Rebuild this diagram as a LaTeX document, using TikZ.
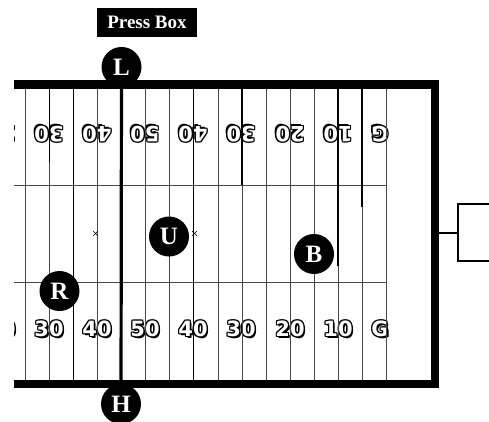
\documentclass[tikz,border=0pt]{standalone}
\usepackage{fontspec}
\setmainfont{Liberation Serif}
\newfontfamily\numfont{DejaVu Sans}
\usetikzlibrary{calc}

\tikzset{
  official/.style={circle, fill=black, minimum size=40pt, inner sep=0pt,
    text=white, font=\fontsize{25}{25}\selectfont\bfseries},
  pressbox/.style={fill=black, text=white, minimum width=100pt, minimum height=29pt,
    inner sep=0pt, font=\fontsize{19}{19}\selectfont\bfseries},
  yardline/.style={draw=black!72, line width=1pt},
  zoneline/.style={draw=black, line width=1.8pt},
  los/.style={draw=black, line width=3.2pt},
  numstyle/.style={inner sep=0pt, font=\numfont\bfseries\fontsize{21}{21}\selectfont},
  border/.style={fill=black},
  post/.style={draw=black, line width=2pt},
  hashmark/.style={draw=black, line width=0.6pt}
}

% hollow lettering: black copies shifted around a white copy
\newcommand\outcopy[3]{\makebox[0pt][l]{\hspace*{#1}\raisebox{#2}{\textcolor{black}{#3}}}}
\newcommand\hollow[1]{%
  \outcopy{-1.1pt}{1.1pt}{#1}\outcopy{0pt}{1.1pt}{#1}\outcopy{1.1pt}{1.1pt}{#1}%
  \outcopy{-1.1pt}{0pt}{#1}\outcopy{1.1pt}{0pt}{#1}%
  \outcopy{-1.1pt}{-1.1pt}{#1}\outcopy{0pt}{-1.1pt}{#1}\outcopy{1.1pt}{-1.1pt}{#1}%
  \outcopy{1.7pt}{-1.7pt}{#1}%
  \textcolor{white}{#1}}

\begin{document}
\begin{tikzpicture}[x=1pt, y=-1pt]
\useasboundingbox (0,0) rectangle (489,422);

% press box
\node[pressbox] (press) at (147,22.5) {Press Box};

\begin{scope}
  \clip (14,0) rectangle (489,422);

  % yard numbers (top row upside down)
  \foreach \x/\t [count=\i] in {1/20,49/30,97/40,145/50,193/40,241/30,290/20,338/10,380/G}{
    \node[numstyle] (bot\i) at (\x,329) {\hollow{\t}};
    \node[numstyle, rotate=180] (top\i) at (\x,134) {\hollow{\t}};
  }

  % yard lines every five yards
  \foreach \x in {1.5,25.5,49.5,73.5,97,121,145,169.5,193.5,218,242,266,290,314,338,362,386}
    \draw[yardline] (\x,89) -- (\x,380);

  % hash lines
  \draw[yardline] (14,185) -- (386,185);
  \draw[yardline] (14,282) -- (386,282);

  % coverage boundaries
  \draw[zoneline] (49.5,89) -- (49.5,162);
  \draw[zoneline] (73.5,89) -- (73.5,380);
  \draw[zoneline] (193.5,89) -- (193.5,380);
  \draw[zoneline] (241.8,89) -- (241.8,185);
  \draw[zoneline] (337.8,89) -- (337.8,266);
  \draw[zoneline] (362,89) -- (362,207);

  % small marks
  \draw[hashmark] (93,231) -- (98,236) (93,236) -- (98,231);
  \draw[hashmark] (192,231) -- (197,236) (192,236) -- (197,231);

  % field border
  \fill[border] (14,80) rectangle (439,89);
  \fill[border] (14,380) rectangle (439,388);
\end{scope}
\fill[border] (431,80) rectangle (439,388);

% goal post
\coordinate (endline) at (439,233);
\coordinate (postjoint) at (458,233);
\coordinate (posttop) at (492,204);
\coordinate (postbot) at (492,261);
\draw[post] (endline) -- (postjoint);
\draw[post] (posttop) -- (458,204) -- (458,261) -- (postbot);

% officials
\node[official] (L) at (121.5,67) {L};
\node[official] (H) at (121,404) {H};
\node[official] (U) at (169,236.5) {U};
\node[official] (B) at (314,254) {B};
\node[official] (R) at (59.5,291) {R};

% line of scrimmage
\draw[los] (L) -- (H);
\end{tikzpicture}
\end{document}
